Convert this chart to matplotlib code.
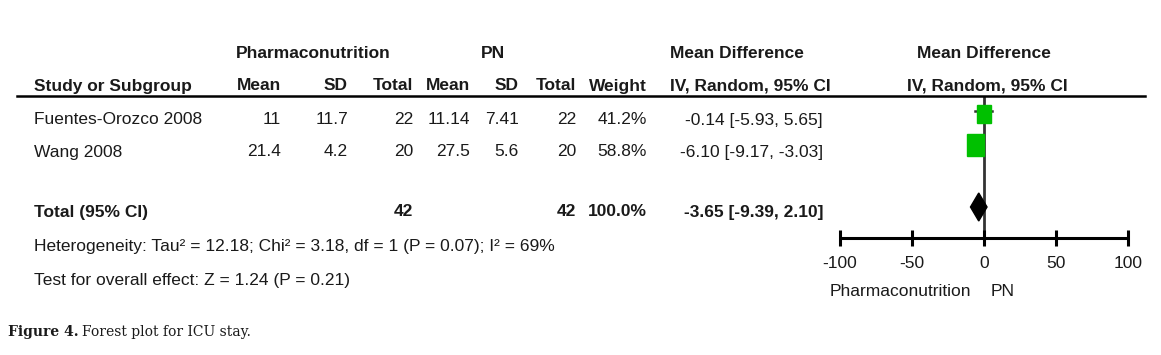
import numpy as np
import matplotlib.pyplot as plt
from matplotlib.patches import Rectangle, Polygon
from matplotlib.lines import Line2D

# data
studies = ['Fuentes-Orozco 2008', 'Wang 2008']
exp_mean = [11, 21.4]
exp_sd = [11.7, 4.2]
exp_n = [22, 20]
ctl_mean = [11.14, 27.5]
ctl_sd = [7.41, 5.6]
ctl_n = [22, 20]
weights = [41.2, 58.8]
md = [-0.14, -6.10]
md_lo = [-5.93, -9.17]
md_hi = [5.65, -3.03]
total_md, total_lo, total_hi = -3.65, -9.39, 2.10
total_exp_n, total_ctl_n = 42, 42
heterogeneity = 'Heterogeneity: Tau² = 12.18; Chi² = 3.18, df = 1 (P = 0.07); I² = 69%'
overall = 'Test for overall effect: Z = 1.24 (P = 0.21)'
xticks = [-100, -50, 0, 50, 100]

W, H = 1161, 355
plt.rcParams['font.family'] = ['Liberation Sans', 'DejaVu Sans']
fig = plt.figure(figsize=(W / 100, H / 100), dpi=100)

FS = 12.5
TXT = '#1a1a1a'

def put(x, y, s, ha='left', bold=False, **kw):
    fig.text(x / W, 1 - y / H, s, ha=ha, va='center', fontsize=FS, color=TXT,
             fontweight='bold' if bold else 'normal', **kw)

# header
put(313, 53, 'Pharmaconutrition', ha='center', bold=True)
put(493, 53, 'PN', ha='center', bold=True)
put(670, 53, 'Mean Difference', bold=True)
put(984, 53, 'Mean Difference', ha='center', bold=True)
put(34, 86, 'Study or Subgroup', bold=True)
cols = [281, 348, 413, 470, 519, 576, 647]
for x, s in zip(cols, ['Mean', 'SD', 'Total', 'Mean', 'SD', 'Total', 'Weight']):
    put(x, 86, s, ha='right', bold=True)
put(670, 86, 'IV, Random, 95% CI', bold=True)
put(987, 86, 'IV, Random, 95% CI', ha='center', bold=True)
fig.add_artist(Line2D([17 / W, 1145 / W], [1 - 96 / H] * 2, color='black', lw=1.8))

# study rows
row_y = [120, 152]
for i, y in enumerate(row_y):
    put(34, y, studies[i])
    vals = [f'{exp_mean[i]:g}', f'{exp_sd[i]:g}', f'{exp_n[i]}', f'{ctl_mean[i]:g}',
            f'{ctl_sd[i]:g}', f'{ctl_n[i]}', f'{weights[i]:.1f}%']
    for x, s in zip(cols, vals):
        put(x, y, s, ha='right')
    put(823, y, f'{md[i]:.2f} [{md_lo[i]:.2f}, {md_hi[i]:.2f}]', ha='right')

# total row
put(34, 212, 'Total (95% CI)', bold=True)
put(cols[2], 212, str(total_exp_n), ha='right', bold=True)
put(cols[5], 212, str(total_ctl_n), ha='right', bold=True)
put(cols[6], 212, f'{sum(weights):.1f}%', ha='right', bold=True)
put(823, 212, f'{total_md:.2f} [{total_lo:.2f}, {total_hi:.2f}]', ha='right', bold=True)
put(34, 246, heterogeneity)
put(34, 280, overall)

# caption
fig.text(8 / W, 1 - 332 / H, 'Figure 4.', ha='left', va='center', fontsize=10,
         family='DejaVu Serif', fontweight='bold', color=TXT)
fig.text(82 / W, 1 - 332 / H, 'Forest plot for ICU stay.', ha='left', va='center',
         fontsize=10, family='DejaVu Serif', color=TXT)

# forest axes: x in mean difference units, y in pixel rows
x0, x1, y0, y1 = 840, 1128, 96, 238
ax = fig.add_axes([x0 / W, 1 - y1 / H, (x1 - x0) / W, (y1 - y0) / H])
ax.set_xlim(-100, 100)
ax.set_ylim(y1, y0)
ax.patch.set_alpha(0)
for s in ['top', 'left', 'right']:
    ax.spines[s].set_visible(False)
ax.spines['bottom'].set_linewidth(2.2)
ax.spines['bottom'].set_capstyle('butt')
ax.set_yticks([])
ax.set_xticks(xticks)
ax.set_xticklabels([str(t) for t in xticks])
ax.tick_params(axis='x', direction='inout', length=12, width=2.2, pad=7,
               labelsize=FS, labelcolor=TXT)
ax.axvline(0, color='#333333', lw=2.0, zorder=1)

upp = 200 / (x1 - x0)  # data units per pixel
sq_y = [114, 145]
for i, y in enumerate(sq_y):
    w_px = 17 * np.sqrt(weights[i] / max(weights))
    ax.plot([md_lo[i], md_hi[i]], [y - 3, y - 3], color='#333333', lw=1.8, zorder=2)
    ax.add_patch(Rectangle((md[i] - w_px * upp / 2, y - w_px * 1.32 / 2), w_px * upp, w_px * 1.32,
                           color='#00c000', zorder=3))
ax.add_patch(Polygon([[total_lo, 207], [total_md, 193], [total_hi, 207], [total_md, 221]],
                     closed=True, color='black', zorder=3))

fig.text(900 / W, 1 - 292 / H, 'Pharmaconutrition', ha='center', va='center', fontsize=FS, color=TXT)
fig.text(1003 / W, 1 - 292 / H, 'PN', ha='center', va='center', fontsize=FS, color=TXT)

fig.savefig('out.png', dpi=100)
